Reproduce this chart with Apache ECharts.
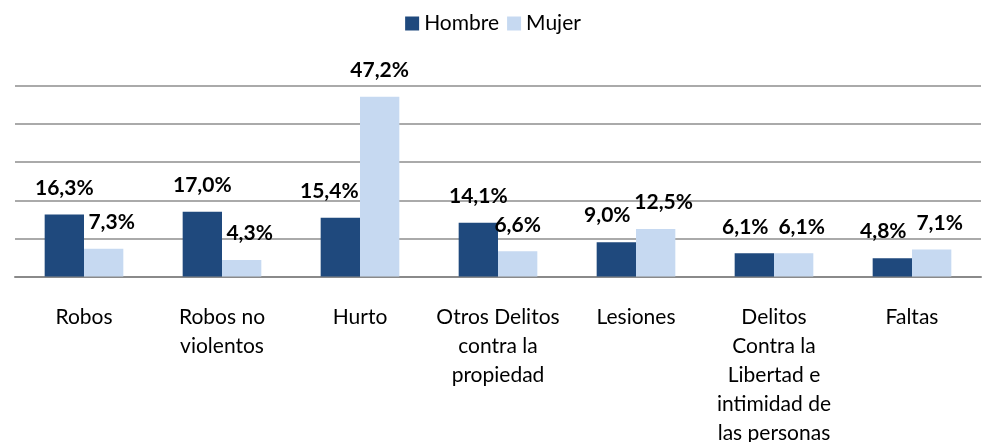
<!DOCTYPE html>
<html>
<head>
<meta charset="utf-8">
<script src="https://cdn.jsdelivr.net/npm/echarts@6/dist/echarts.min.js"></script>
<style>
  html, body { margin: 0; padding: 0; background: #fff; }
  #chart { width: 986px; height: 442px; }
</style>
</head>
<body>
<div id="chart"></div>
<script>
var categories = ['Robos', 'Robos no\nviolentos', 'Hurto', 'Otros Delitos\ncontra la\npropiedad',
    'Lesiones', 'Delitos\nContra la\nLibertad e\nintimidad de\nlas personas', 'Faltas'];
var hombre = [16.3, 17.0, 15.4, 14.1, 9.0, 6.1, 4.8];
var mujer = [7.3, 4.3, 47.2, 6.6, 12.5, 6.1, 7.1];
// desplazamiento horizontal de las etiquetas (como en el original)
var hombreShift = [0, 0, -11, 0, -9, -9, -9];
var mujerShift = [8, 8, 0, 0, 8, 8, 8];

var myChart = echarts.init(document.getElementById('chart'));

function buildData(values, shifts) {
    return values.map(function (v, i) {
        return { value: v, label: { offset: [shifts[i], 0] } };
    });
}

var labelStyle = {
    show: true,
    position: 'top',
    distance: 16,
    fontFamily: 'Lato',
    fontWeight: 'bold',
    fontSize: 21,
    color: '#000',
    formatter: function (p) {
        return p.value.toFixed(1).replace('.', ',') + '%';
    }
};

var option = {
    animation: false,
    textStyle: { fontFamily: 'Lato' },
    legend: {
        top: 8,
        left: 'center',
        itemWidth: 14,
        itemHeight: 14,
        itemGap: 8,
        icon: 'rect',
        textStyle: { fontSize: 21, color: '#000', fontFamily: 'Lato' },
        data: ['Hombre', 'Mujer']
    },
    grid: {
        left: 15,
        right: 5,
        top: 86,
        bottom: 165.5,
        outerBoundsMode: 'none'
    },
    xAxis: {
        type: 'category',
        data: categories,
        axisLine: { lineStyle: { color: '#8a8a8a', width: 2 } },
        axisTick: { show: false },
        axisLabel: {
            interval: 0,
            margin: 26,
            fontSize: 21,
            lineHeight: 29,
            color: '#000',
            fontFamily: 'Lato',
            verticalAlign: 'top'
        }
    },
    yAxis: {
        type: 'value',
        min: 0,
        max: 50,
        interval: 10,
        axisLabel: { show: false },
        axisLine: { show: false },
        axisTick: { show: false },
        splitLine: { lineStyle: { color: '#8e8e8e', width: 1.5 } }
    },
    series: [
        {
            name: 'Hombre',
            type: 'bar',
            data: buildData(hombre, hombreShift),
            barGap: '0%',
            barCategoryGap: '43%',
            itemStyle: { color: '#1f497d' },
            label: labelStyle
        },
        {
            name: 'Mujer',
            type: 'bar',
            data: buildData(mujer, mujerShift),
            itemStyle: { color: '#c6d9f1' },
            label: labelStyle
        }
    ]
};

myChart.setOption(option);
</script>
</body>
</html>
